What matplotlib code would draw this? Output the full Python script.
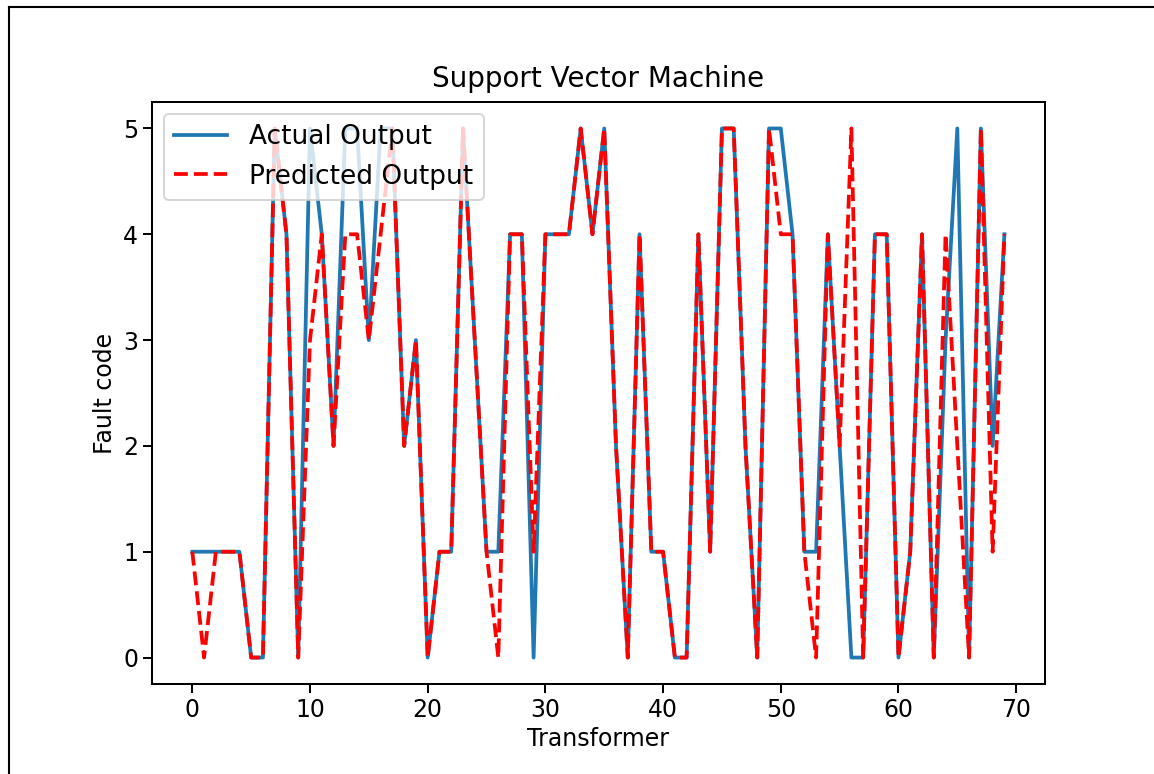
import matplotlib
matplotlib.use("Agg")
import matplotlib.pyplot as plt
from matplotlib.lines import Line2D

actual = [1, 1, 1, 1, 1, 0, 0, 5, 4, 0,
          5, 4, 2, 5, 5, 3, 5, 5, 2, 3,
          0, 1, 1, 5, 3, 1, 1, 4, 4, 0,
          4, 4, 4, 5, 4, 5, 2, 0, 4, 1,
          1, 0, 0, 4, 1, 5, 5, 2, 0, 5,
          5, 4, 1, 1, 4, 2, 0, 0, 4, 4,
          0, 1, 4, 0, 3, 5, 0, 5, 2, 4]
predicted = [1, 0, 1, 1, 1, 0, 0, 5, 4, 0,
             3, 4, 2, 4, 4, 3, 4, 5, 2, 3,
             0, 1, 1, 5, 3, 1, 0, 4, 4, 1,
             4, 4, 4, 5, 4, 5, 2, 0, 4, 1,
             1, 0, 0, 4, 1, 5, 5, 2, 0, 5,
             4, 4, 1, 0, 4, 2, 5, 0, 4, 4,
             0, 1, 4, 0, 4, 2, 0, 5, 1, 4]
x = list(range(len(actual)))

W, H = 1154, 774
fig = plt.figure(figsize=(W / 100, H / 100), dpi=100)
ax = fig.add_axes([151.7 / W, 1 - 684 / H, (1045 - 151.7) / W, (684 - 102) / H])

ax.plot(x, actual, color="#1f77b4", lw=2.7, label="Actual Output")
ax.plot(x, predicted, color="red", lw=2.7, ls="--", label="Predicted Output")

ax.set_title("Support Vector Machine", fontsize=20, pad=11)
ax.set_xlabel("Transformer", fontsize=17)
ax.set_ylabel("Fault code", fontsize=17)
ax.tick_params(labelsize=17, length=6.3, width=1.44)
for s in ax.spines.values():
    s.set_linewidth(1.44)
ax.set_xticks([0, 10, 20, 30, 40, 50, 60, 70])
ax.set_yticks([0, 1, 2, 3, 4, 5])
leg = ax.legend(loc="upper left", fontsize=19, handlelength=2.0,
                handletextpad=0.85, borderaxespad=0.45)
leg.get_frame().set_linewidth(1.44)

# outer frame of the image
fig.add_artist(Line2D([9 / W, 9 / W], [0, 1 - 7 / H], color="black", lw=1.5, transform=fig.transFigure))
fig.add_artist(Line2D([9 / W, 1], [1 - 7 / H, 1 - 7 / H], color="black", lw=1.5, transform=fig.transFigure))

fig.savefig("out.png", dpi=100)
